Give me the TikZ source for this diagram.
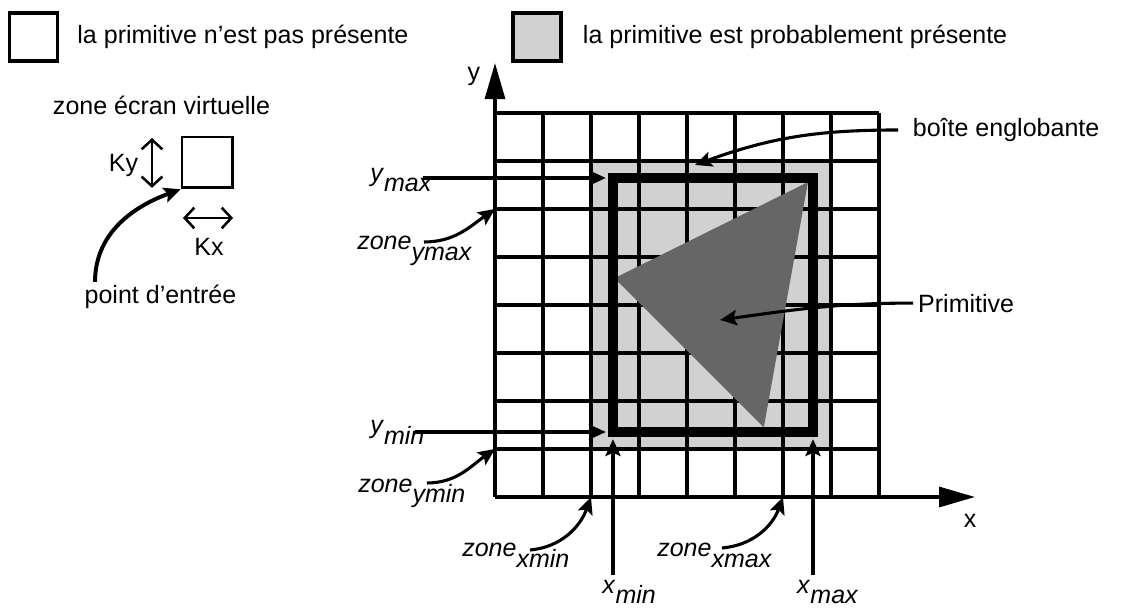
\documentclass[tikz,border=0pt]{standalone}
\usepackage{fontspec}
\setmainfont{Liberation Sans}
\usetikzlibrary{arrows.meta, calc, positioning}

\newcommand{\lbsub}[2]{\textit{#1}\raisebox{-0.8ex}{\textit{#2}}}

\begin{document}
\begin{tikzpicture}[x=1.2cm, y=1.2cm,
    lbl/.style={font=\fontsize{17.8}{21}\selectfont, inner sep=0pt},
    cell/.style={draw, line width=2.4pt, minimum size=1.2cm, inner sep=0pt},
    light/.style={fill=black!18},
    dark/.style={fill=black!60},
    gridline/.style={line width=2.3pt},
    bbox/.style={line width=6.5pt},
    axis/.style={line width=2.3pt, -{Triangle[length=9mm,width=5mm]}},
    lead/.style={line width=2.2pt, -{Stealth[length=4.2mm,width=3.8mm,inset=0.8mm]}},
    kdim/.style={line width=1.8pt, {Straight Barb[length=2.4mm,width=5.2mm]}-{Straight Barb[length=2.4mm,width=5.2mm]}}
]
    \useasboundingbox (-10.3125,-2.3333) rectangle (13.0833,10.3542);

    % legende
    \node[cell] (empty) at (-9.615,9.583) {};
    \node[lbl, right=0.45cm of empty] (emptytxt) {la primitive n'est pas présente};
    \node[cell, light] (dotted) at (0.875,9.583) {};
    \node[lbl, right=0.5cm of dotted] (dottedtxt) {la primitive est probablement présente};

    % zone ecran virtuelle
    \node[lbl] (vtitle) at (-6.948,8.167) {zone écran virtuelle};
    \node[cell, line width=2pt, minimum size=1.27cm] (vcell) at (-5.99,6.969) {};
    \coordinate (kytop) at (-7.146,7.479);
    \coordinate (kybot) at (-7.146,6.44);
    \draw[kdim] (kytop) -- (kybot);
    \node[lbl] (ky) at (-7.74,6.896) {Ky};
    \coordinate (kxl) at (-6.5,5.8125);
    \coordinate (kxr) at (-5.458,5.8125);
    \draw[kdim] (kxl) -- (kxr);
    \node[lbl] (kx) at (-5.958,5.208) {Kx};
    \node[lbl] (entry) at (-6.969,4.167) {point d'entrée};
    \coordinate (entrystart) at (-8.333,4.48);
    \draw[lead, line width=2.8pt] (entrystart) to[out=90,in=200] (vcell.south west);

    % grille et axes
    \fill[light] (2,1) rectangle (7,7);
    \foreach \i in {0,...,8} {
        \draw[gridline] (\i,0) -- (\i,8);
        \draw[gridline] (0,\i) -- (8,\i);
    }
    \coordinate (O) at (0,0);
    \coordinate (xtip) at (10,0);
    \coordinate (ytip) at (0,9.04);
    \draw[axis] (O) -- (xtip);
    \draw[axis] (O) -- (ytip);
    \node[lbl] (xlbl) at (9.9,-0.5) {x};
    \node[lbl] (ylbl) at (-0.44,8.77) {y};

    % primitive et boite englobante
    \coordinate (bl) at (2.458,1.354);
    \coordinate (tr) at (6.625,6.646);
    \coordinate (tl) at (bl |- tr);
    \coordinate (br) at (tr |- bl);
    \fill[dark] (2.49,4.56) -- (6.52,6.56) -- (5.6,1.45) -- cycle;
    \draw[bbox] (bl) rectangle (tr);

    % ymin, ymax
    \node[lbl, anchor=base west] (ymaxlbl) at (-2.604,6.583) {\lbsub{y}{max}};
    \node[lbl, anchor=base west] (yminlbl) at (-2.604,1.3125) {\lbsub{y}{min}};
    \draw[lead] ($(ymaxlbl.east |- tl)+(-0.2,0)$) -- ($(tl)+(-0.15,0)$);
    \draw[lead] ($(yminlbl.east |- bl)+(-0.2,0)$) -- ($(bl)+(-0.15,0)$);

    % xmin, xmax
    \coordinate (xminend) at (2.458,-1.625);
    \coordinate (xmaxend) at (6.625,-1.625);
    \draw[lead] (xminend) -- ($(bl)+(0,-0.15)$);
    \draw[lead] (xmaxend) -- ($(br)+(0,-0.15)$);
    \node[lbl, anchor=base west] (xminlbl) at (2.229,-2.0) {\lbsub{x}{min}};
    \node[lbl, anchor=base west] (xmaxlbl) at (6.29,-2.0) {\lbsub{x}{max}};

    % zones
    \node[lbl, anchor=base west] (zymax) at (-2.875,5.146) {\lbsub{zone}{ymax}};
    \node[lbl, anchor=base west] (zymin) at (-2.854,0.104) {\lbsub{zone}{ymin}};
    \node[lbl, anchor=base west] (zxmin) at (-0.6875,-1.25) {\lbsub{zone}{xmin}};
    \node[lbl, anchor=base west] (zxmax) at (3.375,-1.25) {\lbsub{zone}{xmax}};
    \coordinate (zymaxstart) at (-1.479,5.3125);
    \coordinate (zyminstart) at (-1.417,0.292);
    \coordinate (zxminstart) at (0.729,-1.104);
    \coordinate (zxmaxstart) at (4.729,-1.0625);
    \draw[lead] (zymaxstart) to[out=0,in=215] (0,6);
    \draw[lead] (zyminstart) to[out=0,in=215] (0,1);
    \draw[lead] (zxminstart) to[out=5,in=250] (2,0);
    \draw[lead] (zxmaxstart) to[out=5,in=250] (6,0);

    % annotations a droite
    \node[lbl, anchor=west] (boite) at (8.7,7.646) {boîte englobante};
    \coordinate (boitetip) at (4.167,6.917);
    \draw[lead] ($(boite.west)+(-0.3,0)$) to[out=180,in=20] (boitetip);
    \node[lbl, anchor=west] (prim) at (8.81,4.04) {Primitive};
    \coordinate (primtip) at (4.6875,3.6875);
    \draw[lead] ($(prim.west)+(-0.1,0)$) to[out=180,in=8] (primtip);
\end{tikzpicture}
\end{document}
